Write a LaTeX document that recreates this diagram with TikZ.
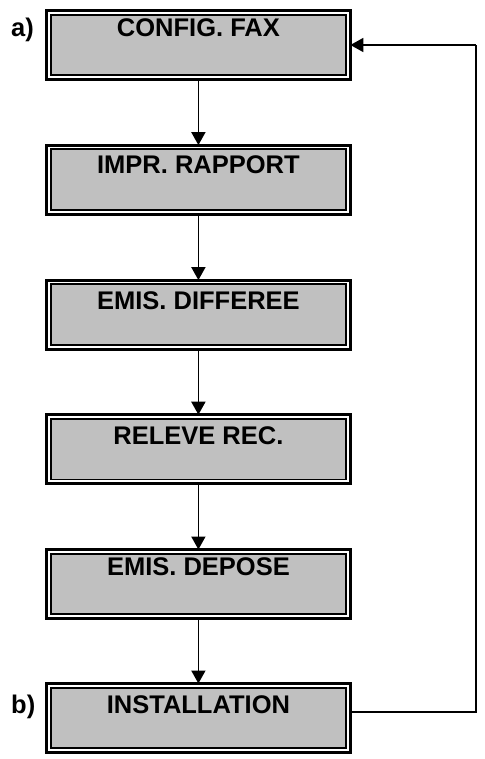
\documentclass[tikz,border=0pt]{standalone}
\usepackage{fontspec}
\setmainfont{Liberation Sans}
\usetikzlibrary{arrows.meta}
\definecolor{boxgray}{RGB}{192,192,192}
\tikzset{
  outerbox/.style={draw, line width=3pt, fill=white, outer sep=0pt, inner sep=0pt,
    minimum width=304pt, minimum height=69pt},
  innerbox/.style={draw, line width=1.9pt, fill=boxgray},
  lbl/.style={font=\fontsize{25.5}{30}\selectfont\bfseries, inner sep=0pt, anchor=base},
  arr/.style={line width=1.8pt, -{Triangle[length=13pt,width=14pt]}},
  fb/.style={line width=2pt},
}
\begin{document}
\begin{tikzpicture}[x=1pt,y=1pt]
\useasboundingbox (0,0) rectangle (484,-759);
\node[outerbox] (b1) at (198.4,-45) {};
\node[outerbox] (b2) at (198.4,-179.6) {};
\node[outerbox] (b3) at (198.4,-314.6) {};
\node[outerbox] (b4) at (198.4,-449.2) {};
\node[outerbox] (b5) at (198.4,-584) {};
\node[outerbox] (b6) at (198.4,-718) {};
\foreach \n in {b1,b2,b3,b4,b5,b6}
  \draw[innerbox] ([shift={(4.2pt,-4.2pt)}]\n.north west) rectangle ([shift={(-4.2pt,4.2pt)}]\n.south east);
\node[lbl] (t1) at (198.4,-37) {CONFIG. FAX};
\node[lbl] (t2) at (198.4,-173.5) {IMPR. RAPPORT};
\node[lbl] (t3) at (198.4,-309.5) {EMIS. DIFFEREE};
\node[lbl] (t4) at (198.4,-444) {RELEVE REC.};
\node[lbl] (t5) at (198.4,-575.5) {EMIS. DEPOSE};
\node[lbl] (t6) at (198.4,-713) {INSTALLATION};
\node[lbl, anchor=base west] (la) at (11,-37) {a)};
\node[lbl, anchor=base west] (lb) at (11,-713) {b)};
\draw[arr] (b1.south) -- (b2.north);
\draw[arr] (b2.south) -- (b3.north);
\draw[arr] (b3.south) -- (b4.north);
\draw[arr] (b4.south) -- (b5.north);
\draw[arr] (b5.south) -- (b6.north);
\coordinate (c1) at (475.7,-712);
\coordinate (c2) at (475.7,-45);
\draw[fb] ([yshift=6pt]b6.east) -- (c1) -- (c2);
\draw[arr] (c2) -- (b1.east);
\end{tikzpicture}
\end{document}
